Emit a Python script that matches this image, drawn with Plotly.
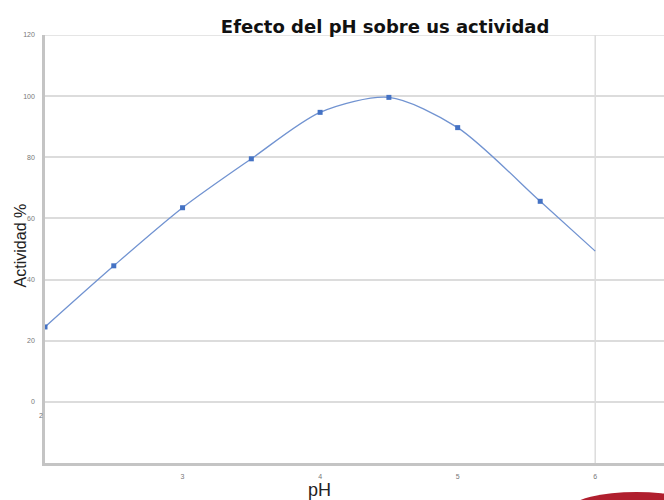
import plotly.graph_objects as go

# Data
ph = [2, 2.5, 3, 3.5, 4, 4.5, 5, 5.6, 6]
actividad = [24.5, 44.5, 63.5, 79.5, 94.7, 99.6, 89.7, 65.6, 49.3]
marker_shown = [True, True, True, True, True, True, True, True, False]

x_tick_vals = [3, 4, 5, 6]
x_tick_text = ["3", "4", "5", "6"]
y_tick_vals = [0, 20, 40, 60, 80, 100, 120]
y_tick_text = ["0", "20", "40", "60", "80", "100", "120"]

title_text = "Efecto del pH sobre us actividad"
x_title = "pH"
y_title = "Actividad %"

fig = go.Figure()
fig.add_trace(go.Scatter(
    x=ph, y=actividad, mode="lines",
    line=dict(color="#7193d1", width=1.3, shape="spline", smoothing=0.8),
    hoverinfo="skip", showlegend=False,
))
fig.add_trace(go.Scatter(
    x=[p for p, s in zip(ph, marker_shown) if s],
    y=[a for a, s in zip(actividad, marker_shown) if s],
    mode="markers",
    marker=dict(symbol="square", size=5, color="#4472c4"),
    showlegend=False,
))

tick_font = dict(family="Liberation Sans", size=7, color="#777777")

fig.update_layout(
    width=664, height=500,
    margin=dict(l=45, r=0, t=35, b=37),
    paper_bgcolor="white", plot_bgcolor="white",
    title=dict(text=f"<b>{title_text}</b>", x=0.58, xanchor="center",
               y=0.946, yanchor="middle",
               font=dict(family="DejaVu Sans", size=18, color="#111111")),
    xaxis=dict(range=[2, 6.5], tickvals=x_tick_vals, ticktext=x_tick_text,
               showgrid=False, zeroline=False, automargin=False,
               showline=True, linecolor="#c4c4c4", linewidth=2.5,
               ticks="", ticklabelstandoff=5, tickfont=tick_font),
    yaxis=dict(range=[-20, 120], tickvals=y_tick_vals, ticktext=y_tick_text,
               showgrid=True, gridcolor="#dcdcdc", gridwidth=1.5, zeroline=False,
               automargin=False,
               showline=True, linecolor="#c4c4c4", linewidth=2.5,
               ticks="", ticklabelstandoff=6, tickfont=tick_font),
    shapes=[
        dict(type="line", xref="x", yref="y", x0=6, x1=6, y0=-20, y1=120,
             line=dict(color="#dcdcdc", width=1.5), layer="below"),
        dict(type="line", xref="paper", yref="y", x0=0, x1=1, y0=120, y1=120,
             line=dict(color="#dcdcdc", width=1.5), layer="below"),
        dict(type="circle", xref="paper", yref="paper",
             x0=0.851, x1=1.06, y0=-0.1425, y1=-0.0678,
             fillcolor="#b01f2e", line=dict(width=0)),
    ],
    annotations=[
        dict(text="2", x=2, y=-4.5, xref="x", yref="y", showarrow=False,
             xanchor="right", font=tick_font),
        dict(text=x_title, x=0.444, y=-0.063, xref="paper", yref="paper",
             showarrow=False, xanchor="center", yanchor="middle",
             font=dict(family="Liberation Sans", size=18, color="#222222")),
        dict(text=y_title, x=-0.040, y=0.509, xref="paper", yref="paper",
             showarrow=False, xanchor="center", yanchor="middle", textangle=-90,
             font=dict(family="Liberation Sans", size=16, color="#222222")),
    ],
)

fig.write_html("out.html", config={"displayModeBar": False},
               post_script="document.body.style.margin='0';document.body.style.padding='0';")
